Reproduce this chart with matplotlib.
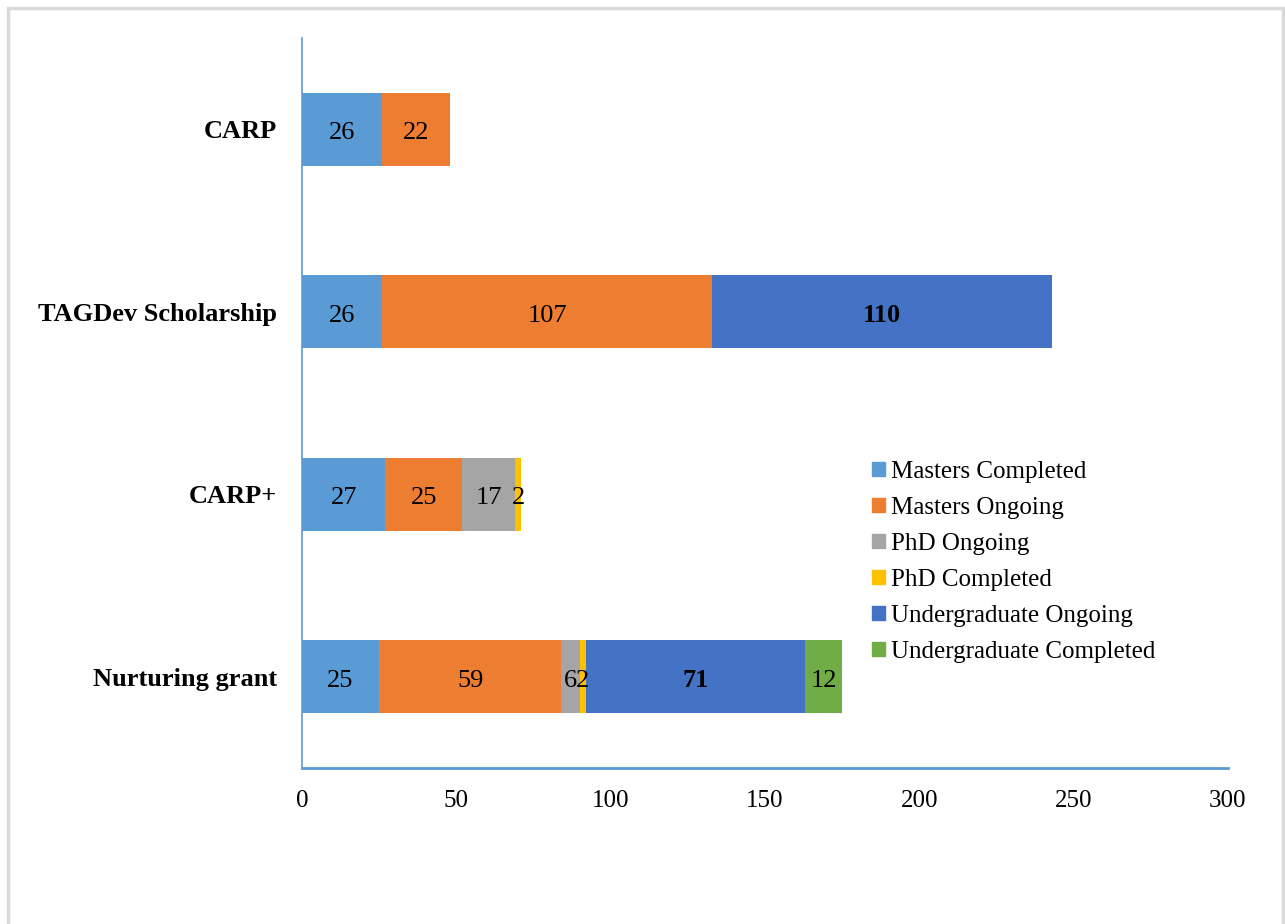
import matplotlib as mpl
import matplotlib.pyplot as plt
import matplotlib.patches as mpat
import numpy as np

################################################################################
# Data
################################################################################
programs = ['Nurturing grant', 'CARP+', 'TAGDev Scholarship', 'CARP']
series = ['Masters Completed', 'Masters Ongoing', 'PhD Ongoing',
          'PhD Completed', 'Undergraduate Ongoing', 'Undergraduate Completed']
masters_completed = [25, 27, 26, 26]
masters_ongoing = [59, 25, 107, 22]
phd_ongoing = [6, 17, 0, 0]
phd_completed = [2, 2, 0, 0]
undergrad_ongoing = [71, 0, 110, 0]
undergrad_completed = [12, 0, 0, 0]
x_ticks = [0, 50, 100, 150, 200, 250, 300]

values = [masters_completed, masters_ongoing, phd_ongoing,
          phd_completed, undergrad_ongoing, undergrad_completed]
cols = ['#5B9BD5', '#ED7D31', '#A5A5A5', '#FFC000', '#4472C4', '#70AD47']
bold_series = ['Undergraduate Ongoing']

################################################################################
# Plot
################################################################################
plt.rcParams['font.family'] = ['Liberation Serif', 'DejaVu Serif']
fig = plt.figure(figsize=(12.85, 9.24), dpi=100)
ax = fig.add_axes([0.235, 0.1688, 0.7206, 0.7901])

# light gray frame round the whole chart
fig.patches.append(mpat.Rectangle((8/1285, -0.01), 1275/1285, 1 - 8/924 + 0.01,
                                  transform=fig.transFigure, fill=False,
                                  edgecolor='#D9D9D9', linewidth=2.5))

ypos = np.arange(len(programs))
left = np.zeros(len(programs))
for name, vals, col in zip(series, values, cols):
    vals = np.array(vals, dtype=float)
    ax.barh(ypos, vals, left=left, height=0.4, color=col, label=name)
    for y, v, l in zip(ypos, vals, left):
        if v > 0:
            ax.annotate(f'{int(v)}', (l + v/2, y), xytext=(0, -3),
                        textcoords='offset points',
                        ha='center', va='center', fontsize=19,
                        fontweight='bold' if name in bold_series else 'normal')
    left += vals

ax.set_xlim(0, 300)
ax.set_ylim(-0.5, 3.5)
ax.set_xticks(x_ticks)
ax.set_xticklabels([str(t) for t in x_ticks], fontsize=18)
ax.set_yticks(ypos)
ax.set_yticklabels(programs, fontsize=19, fontweight='bold')
ax.tick_params(axis='both', length=0)
ax.tick_params(axis='x', pad=16)
ax.tick_params(axis='y', pad=18)

for s in ['top', 'right']:
    ax.spines[s].set_visible(False)
ax.spines['left'].set_color('#5B9BD5')
ax.spines['left'].set_linewidth(1.2)
ax.spines['bottom'].set_color('#5B9BD5')
ax.spines['bottom'].set_linewidth(2)

handles = [mpat.Patch(color=c) for c in cols]
fig.legend(handles, series, loc='upper left',
           bbox_to_anchor=(872/1285, 1 - 461/924), frameon=False,
           fontsize=18, handlelength=0.5, handleheight=0.5,
           handletextpad=0.25, labelspacing=0.56,
           borderpad=0, borderaxespad=0)

plt.savefig('out.png', dpi=100)
plt.close()
